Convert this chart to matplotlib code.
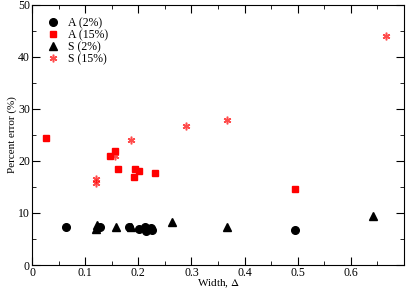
import numpy as np
import matplotlib
matplotlib.use("Agg")
import matplotlib.pyplot as plt
from matplotlib.ticker import MultipleLocator

plt.rcParams['font.family'] = ['Liberation Serif', 'DejaVu Serif']
plt.rcParams['mathtext.fontset'] = 'stix'

# A (2%) - circles
a2_x = [0.064, 0.128, 0.182, 0.202, 0.212, 0.214, 0.224, 0.226, 0.495]
a2_y = [7.2, 7.2, 7.2, 6.9, 7.2, 6.6, 7.1, 6.7, 6.7]
# A (15%) - squares
a15_x = [0.026, 0.147, 0.156, 0.162, 0.193, 0.191, 0.201, 0.231, 0.495]
a15_y = [24.3, 21.0, 21.8, 18.4, 18.4, 16.9, 18.1, 17.7, 14.5]
# S (2%) - triangles
s2_x = [0.122, 0.121, 0.158, 0.186, 0.263, 0.366, 0.641]
s2_y = [7.7, 7.0, 7.25, 7.2, 8.3, 7.2, 9.4]
# S (15%) - stars
s15_x = [0.120, 0.120, 0.157, 0.186, 0.289, 0.366, 0.666]
s15_y = [16.5, 15.7, 21.0, 23.9, 26.6, 27.8, 43.9]

fig = plt.figure(figsize=(4.16, 2.91), dpi=100)
ax = fig.add_axes([32/416, 1-265/291, 372/416, 260.5/291])

ax.plot(a2_x, a2_y, 'o', color='black', ms=5.5, ls='none', label='A (2%)')
ax.plot(a15_x, a15_y, 's', color='red', ms=5, ls='none', label='A (15%)')
ax.plot(s2_x, s2_y, '^', color='black', ms=5.5, ls='none', label='S (2%)')
ax.plot(s15_x, s15_y, marker=(6, 2, 0), color='red', ms=5.5, mew=1.1, ls='none',
        alpha=0.7, label='S (15%)')

ax.set_xlim(0, 0.7)
ax.set_ylim(0, 50)
ax.xaxis.set_major_locator(MultipleLocator(0.1))
ax.xaxis.set_minor_locator(MultipleLocator(0.05))
ax.yaxis.set_major_locator(MultipleLocator(10))
ax.yaxis.set_minor_locator(MultipleLocator(5))
ax.set_xticks([0, 0.1, 0.2, 0.3, 0.4, 0.5, 0.6])
ax.set_xticklabels(['0', '0.1', '0.2', '0.3', '0.4', '0.5', '0.6'])
ax.tick_params(which='both', direction='in', top=True, right=True, labelsize=8.5, pad=1.5)
ax.tick_params(which='major', length=6)
ax.tick_params(which='minor', length=3)

ax.set_xlabel(r'Width, $\Delta$', fontsize=8, labelpad=-1)
ax.set_ylabel('Percent error (%)', fontsize=8, labelpad=1)

ax.legend(loc='upper left', bbox_to_anchor=(0.025, 0.97), frameon=False,
          fontsize=8.5, handletextpad=0.7, labelspacing=0.0, borderaxespad=0,
          handlelength=1.2)

fig.savefig('out.png', dpi=100)
